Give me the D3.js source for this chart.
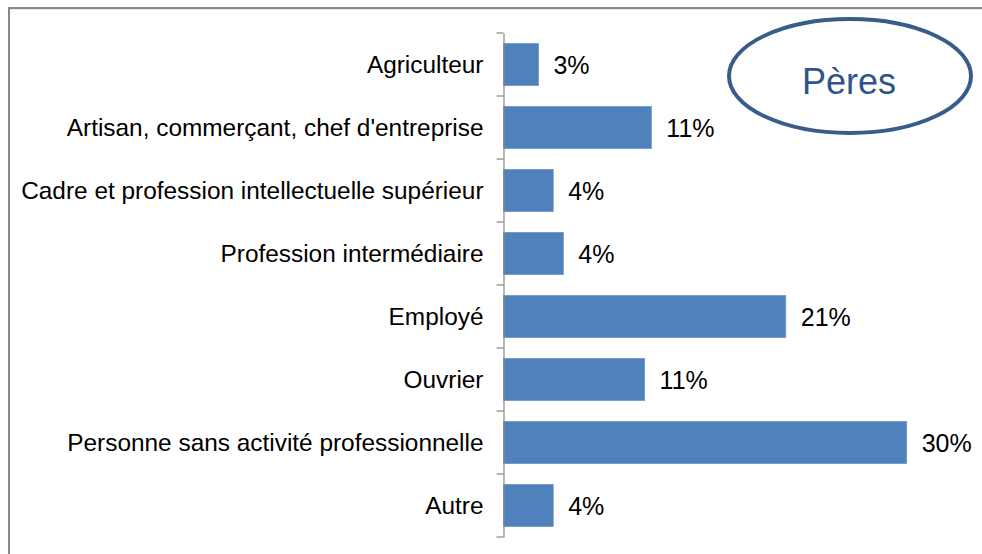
<!DOCTYPE html>
<html>
<head>
<meta charset="utf-8">
<script src="https://cdn.jsdelivr.net/npm/d3@7"></script>
<style>
html,body{margin:0;padding:0;background:#fff;}
svg{display:block;font-family:"Liberation Sans",Arial,sans-serif;}
</style>
</head>
<body>
<svg id="chart" width="982" height="554"></svg>
<script>
const categories = [
  "Agriculteur",
  "Artisan, commerçant, chef d'entreprise",
  "Cadre et profession intellectuelle supérieur",
  "Profession intermédiaire",
  "Employé",
  "Ouvrier",
  "Personne sans activité professionnelle",
  "Autre"
];
const values = [2.6, 11.0, 3.7, 4.45, 21.0, 10.5, 30.0, 3.7];
const title = "Pères";

const svg = d3.select("#chart");

// frame
svg.append("line").attr("x1", 8).attr("x2", 982).attr("y1", 8).attr("y2", 8)
  .attr("stroke", "#888").attr("stroke-width", 2);
svg.append("line").attr("x1", 9).attr("x2", 982).attr("y1", 9.5).attr("y2", 9.5)
  .attr("stroke", "#e6e6e6").attr("stroke-width", 1);
svg.append("line").attr("x1", 9).attr("x2", 9).attr("y1", 7).attr("y2", 554)
  .attr("stroke", "#888").attr("stroke-width", 2);

const x = d3.scaleLinear().domain([0, 30]).range([503.5, 906.7]);
const y = d3.scaleBand().domain(categories).range([33, 537])
  .paddingInner(1/3).paddingOuter(1/6);

// bars
svg.append("g").selectAll("rect").data(values).join("rect")
  .attr("x", x(0))
  .attr("y", (d, i) => y(categories[i]))
  .attr("width", d => x(d) - x(0))
  .attr("height", y.bandwidth())
  .attr("fill", "#4f81bd")
  .attr("stroke", "#6d95c8")
  .attr("stroke-width", 0.8);

// axis
const axis = d3.axisLeft(y).tickSize(0).tickPadding(20);
const ag = svg.append("g").attr("transform", `translate(${x(0)},0)`).call(axis);
ag.select(".domain").attr("stroke", "#868686").attr("stroke-width", 1.2);
ag.selectAll(".tick text").attr("font-size", 24.4).attr("fill", "#000")
  .attr("font-family", "Liberation Sans, Arial, sans-serif").attr("dy", "0.33em");
// tick marks at band boundaries
const bounds = categories.map(c => y(c) - y.step() * y.paddingInner() / 2);
bounds.push(y(categories[categories.length - 1]) + y.bandwidth() + y.step() * y.paddingInner() / 2);
svg.append("g").selectAll("line").data(bounds).join("line")
  .attr("x1", x(0) - 7).attr("x2", x(0))
  .attr("y1", d => d).attr("y2", d => d)
  .attr("stroke", "#868686").attr("stroke-width", 1.2);

// value labels
svg.append("g").selectAll("text").data(values).join("text")
  .attr("x", d => x(d) + 15)
  .attr("y", (d, i) => y(categories[i]) + y.bandwidth() / 2)
  .attr("dy", "0.36em")
  .attr("font-size", 25)
  .attr("fill", "#000")
  .text(d => Math.round(d) + "%");

// ellipse with title
svg.append("ellipse").attr("cx", 850).attr("cy", 76).attr("rx", 121).attr("ry", 57)
  .attr("fill", "none").attr("stroke", "#385d8a").attr("stroke-width", 4);
svg.append("text").attr("x", 849).attr("y", 94).attr("text-anchor", "middle")
  .attr("font-size", 36).attr("fill", "#2f5487").text(title);
</script>
</body>
</html>
